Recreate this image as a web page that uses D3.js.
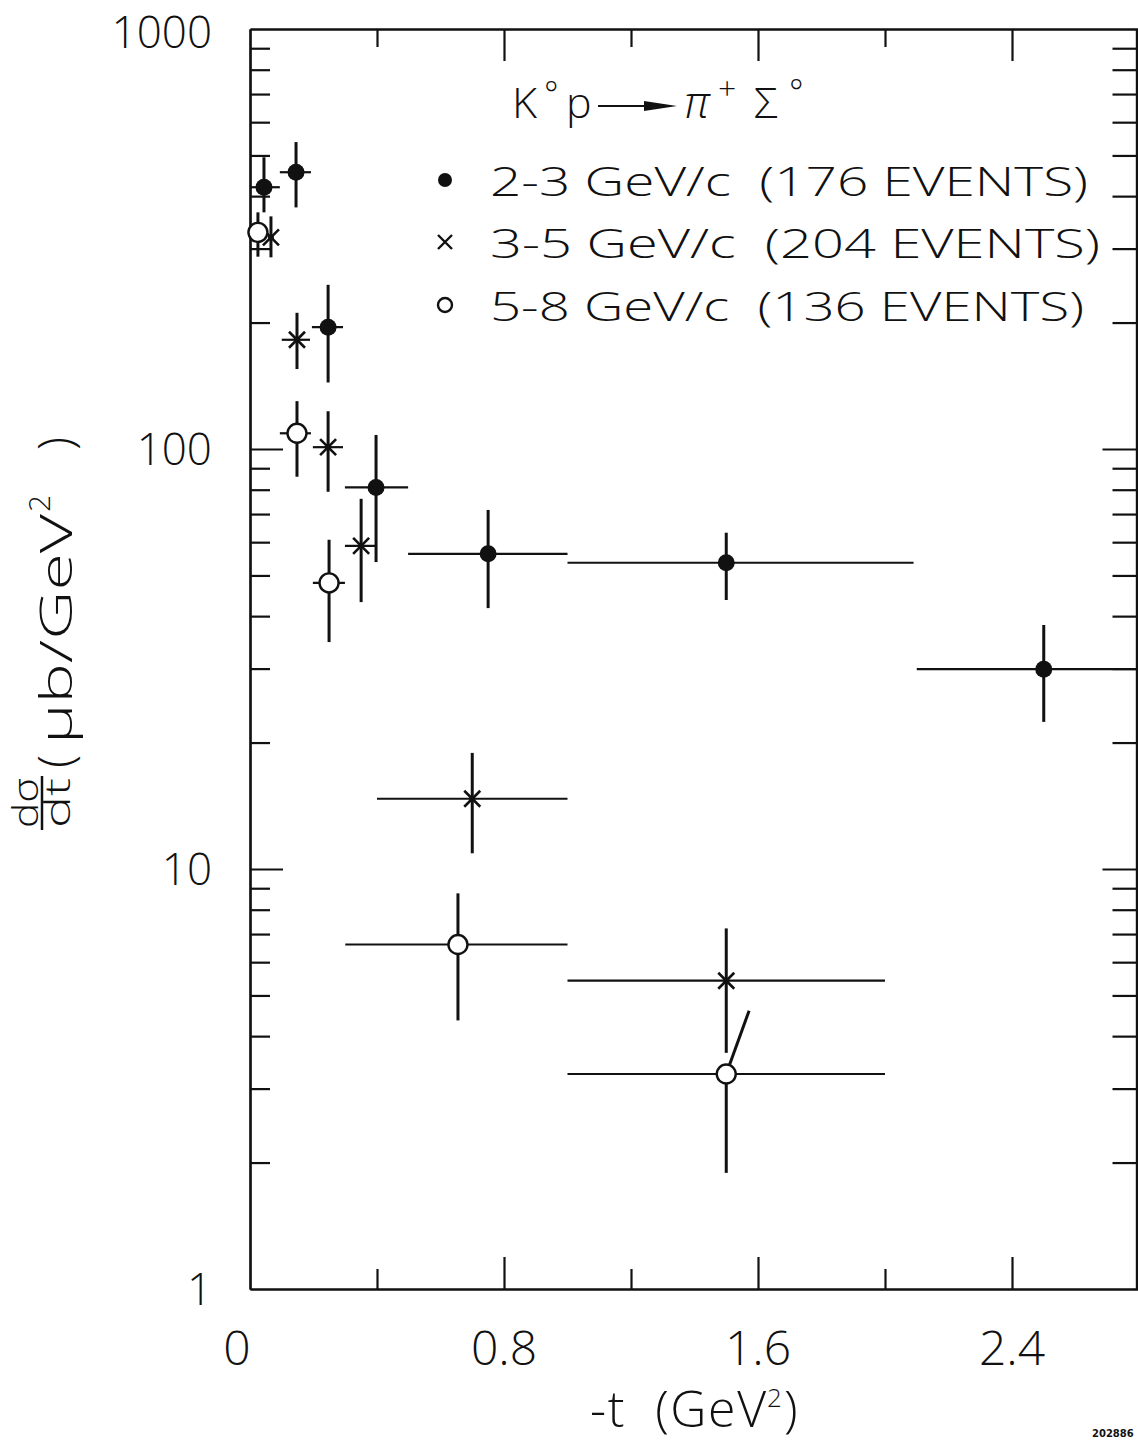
<!DOCTYPE html>
<html>
<head>
<meta charset="utf-8">
<script src="https://cdn.jsdelivr.net/npm/d3@7"></script>
<style>
    body { margin: 0; background: #fff; }
    svg text { font-family: "Open Sans", "Liberation Sans", sans-serif; font-weight: 300; fill: #111; }
</style>
</head>
<body>
<svg id="chart" width="1138" height="1444"></svg>
<script>
'use strict';

// values: bin centre, bin edges in -t, dsigma/dt and error bar ends
var seriesNames = ['2-3 GeV/c  (176 EVENTS)', '3-5 GeV/c  (204 EVENTS)', '5-8 GeV/c  (136 EVENTS)']

var t23 = [0.044, 0.145, 0.246, 0.397, 0.75, 1.5, 2.5]
var tLo23 = [0, 0.094, 0.195, 0.299, 0.498, 1.0, 2.1]
var tHi23 = [0.094, 0.192, 0.293, 0.498, 1.0, 2.09, 2.8]
var v23 = [420, 456, 195, 81, 56.3, 53.6, 29.9]
var vLo23 = [366, 376, 144, 53.8, 41.8, 43.7, 22.4]
var vHi23 = [495, 538, 246, 108, 71.6, 63.2, 38.1]

var t35 = [0.066, 0.148, 0.246, 0.35, 0.7, 1.5]
var tLo35 = [0.066, 0.10, 0.198, 0.299, 0.4, 1.0]
var tHi35 = [0.066, 0.189, 0.293, 0.397, 1.0, 2.0]
var v35 = [319, 182, 101, 58.8, 14.7, 5.42]
var vLo35 = [286, 155, 79.1, 43.2, 10.9, 3.65]
var vHi35 = [358, 211, 123, 76.1, 18.9, 7.22]

var t58 = [0.025, 0.148, 0.249, 0.655, 1.5]
var tLo58 = [0.025, 0.094, 0.198, 0.3, 1.0]
var tHi58 = [0.025, 0.192, 0.299, 1.0, 2.0]
var v58 = [328, 109, 48.0, 6.61, 3.25]
var vLo58 = [287, 85.9, 34.7, 4.36, 1.89]
var vHi58 = [366, 130, 60.8, 8.75, 3.25]

// the last open point has its upper error drawn as a slanted stroke
var slantT = [1.5, 1.572]
var slantV = [3.25, 4.6]

var xMajor = [0.8, 1.6, 2.4]
var xMinor = [0.4, 1.2, 2.0]
var xLabels = [0, 0.8, 1.6, 2.4]
var yLabels = [1, 10, 100, 1000]

var W = 1138,
    H = 1444
var svg = d3.select('#chart')

var x = d3.scaleLinear().domain([0, 2.8]).range([250, 1139])
var y = d3.scaleLog().domain([1, 1000]).range([1289, 29])

var yMajor = [10, 100]
var yMinor = y.ticks().filter(function(d) { return yLabels.indexOf(d) < 0 })

function styleAxis(g) {
    g.select('.domain').attr('stroke', '#111').attr('stroke-width', 2.2)
    g.selectAll('.tick line').attr('stroke', '#111').attr('stroke-width', 2.2)
    g.selectAll('.tick text').remove()
}

// frame with inward ticks on every side
var frameL = x(0),
    frameR = W - 1.5,
    frameT = y(1000),
    frameB = y(1)

svg.append('g').attr('transform', 'translate(' + frameL + ',0)')
    .call(d3.axisLeft(y).tickValues(yMajor).tickSizeInner(-33).tickSizeOuter(0)).call(styleAxis)
svg.append('g').attr('transform', 'translate(' + frameL + ',0)')
    .call(d3.axisLeft(y).tickValues(yMinor).tickSizeInner(-20).tickSizeOuter(0)).call(styleAxis)
svg.append('g').attr('transform', 'translate(' + frameR + ',0)')
    .call(d3.axisRight(y).tickValues(yMajor).tickSizeInner(-34).tickSizeOuter(0)).call(styleAxis)
svg.append('g').attr('transform', 'translate(' + frameR + ',0)')
    .call(d3.axisRight(y).tickValues(yMinor).tickSizeInner(-24).tickSizeOuter(0)).call(styleAxis)

svg.append('g').attr('transform', 'translate(0,' + frameB + ')')
    .call(d3.axisBottom(x).tickValues(xMajor).tickSizeInner(-32).tickSizeOuter(0)).call(styleAxis)
svg.append('g').attr('transform', 'translate(0,' + frameB + ')')
    .call(d3.axisBottom(x).tickValues(xMinor).tickSizeInner(-20).tickSizeOuter(0)).call(styleAxis)
svg.append('g').attr('transform', 'translate(0,' + frameT + ')')
    .call(d3.axisTop(x).tickValues(xMajor).tickSizeInner(-32).tickSizeOuter(0)).call(styleAxis)
svg.append('g').attr('transform', 'translate(0,' + frameT + ')')
    .call(d3.axisTop(x).tickValues(xMinor).tickSizeInner(-18).tickSizeOuter(0)).call(styleAxis)

// tick labels
svg.selectAll('text.ylab').data(yLabels).enter().append('text')
    .attr('class', 'ylab')
    .attr('x', 212)
    .attr('y', function(d) { return Math.max(y(d) + 16, 48) })
    .attr('text-anchor', 'end')
    .style('font-size', '44px')
    .text(function(d) { return d })

svg.selectAll('text.xlab').data(xLabels).enter().append('text')
    .attr('class', 'xlab')
    .attr('x', function(d) { return x(d) - (d === 0 ? 13 : 0) })
    .attr('y', 1365)
    .attr('text-anchor', 'middle')
    .style('font-size', '48px')
    .text(function(d) { return d === 0 ? '0' : d3.format('.1f')(d) })

// axis titles
svg.append('text')
    .attr('x', 590)
    .attr('y', 1427)
    .attr('textLength', 176)
    .attr('lengthAdjust', 'spacing')
    .style('font-size', '50px')
    .style('white-space', 'pre')
    .text('-t  (GeV')
svg.append('text')
    .attr('x', 767)
    .attr('y', 1407)
    .style('font-size', '26px')
    .text('2')
svg.append('text')
    .attr('x', 784)
    .attr('y', 1427)
    .style('font-size', '50px')
    .text(')')

var yt = svg.append('g').attr('transform', 'rotate(-90)')
yt.append('text')
    .attr('x', -803)
    .attr('y', 38)
    .attr('text-anchor', 'middle')
    .attr('textLength', 50)
    .attr('lengthAdjust', 'spacingAndGlyphs')
    .style('font-size', '34px')
    .text('dσ')
yt.append('line')
    .attr('x1', -830).attr('x2', -776)
    .attr('y1', 42).attr('y2', 42)
    .attr('stroke', '#111').attr('stroke-width', 2.5)
yt.append('text')
    .attr('x', -803)
    .attr('y', 70)
    .attr('text-anchor', 'middle')
    .attr('textLength', 50)
    .attr('lengthAdjust', 'spacingAndGlyphs')
    .style('font-size', '34px')
    .text('dt')
yt.append('text')
    .attr('x', -768)
    .attr('y', 72)
    .style('font-size', '48px')
    .text('(')
yt.append('text')
    .attr('x', -744)
    .attr('y', 72)
    .attr('textLength', 230)
    .attr('lengthAdjust', 'spacingAndGlyphs')
    .style('font-size', '44px')
    .text('μb/GeV')
yt.append('text')
    .attr('x', -512)
    .attr('y', 50)
    .style('font-size', '30px')
    .text('2')
yt.append('text')
    .attr('x', -450)
    .attr('y', 72)
    .style('font-size', '48px')
    .text(')')

// error bars and markers
function drawSeries(t, tLo, tHi, v, vLo, vHi, kind) {
    var rows = t.map(function(d, i) {
        return { t: d, tLo: tLo[i], tHi: tHi[i], v: v[i], vLo: vLo[i], vHi: vHi[i] }
    })
    var g = svg.append('g')
    g.selectAll('line.h').data(rows.filter(function(d) { return d.tHi > d.tLo })).enter().append('line')
        .attr('x1', function(d) { return x(d.tLo) })
        .attr('x2', function(d) { return x(d.tHi) })
        .attr('y1', function(d) { return y(d.v) })
        .attr('y2', function(d) { return y(d.v) })
        .attr('stroke', '#111').attr('stroke-width', 2.2)
    g.selectAll('line.v').data(rows).enter().append('line')
        .attr('x1', function(d) { return x(d.t) })
        .attr('x2', function(d) { return x(d.t) })
        .attr('y1', function(d) { return y(d.vLo) })
        .attr('y2', function(d) { return y(d.vHi) })
        .attr('stroke', '#111').attr('stroke-width', 3)
    var m = g.selectAll('g.m').data(rows).enter().append('g')
        .attr('transform', function(d) { return 'translate(' + x(d.t) + ',' + y(d.v) + ')' })
    drawMarker(m, kind)
}

function drawMarker(sel, kind) {
    if (kind === 'filled') {
        sel.append('circle').attr('r', 8.5).attr('fill', '#111')
    } else if (kind === 'open') {
        sel.append('circle').attr('r', 9.5).attr('fill', '#fff').attr('stroke', '#111').attr('stroke-width', 2.4)
    } else {
        sel.append('path').attr('d', 'M-8,-8L8,8M-8,8L8,-8').attr('stroke', '#111').attr('stroke-width', 2.6)
        sel.append('circle').attr('r', 3).attr('fill', '#111')
    }
}

drawSeries(t23, tLo23, tHi23, v23, vLo23, vHi23, 'filled')
drawSeries(t35, tLo35, tHi35, v35, vLo35, vHi35, 'cross')
drawSeries(t58, tLo58, tHi58, v58, vLo58, vHi58, 'open')

// slanted upper error of the last open point, starting at the circle edge
var sx0 = x(slantT[0]), sy0 = y(slantV[0]), sx1 = x(slantT[1]), sy1 = y(slantV[1])
var sl = Math.sqrt((sx1 - sx0) * (sx1 - sx0) + (sy1 - sy0) * (sy1 - sy0))
svg.append('line')
    .attr('x1', sx0 + (sx1 - sx0) / sl * 10)
    .attr('y1', sy0 + (sy1 - sy0) / sl * 10)
    .attr('x2', sx1)
    .attr('y2', sy1)
    .attr('stroke', '#111').attr('stroke-width', 3)

// reaction label, placed piece by piece like the hand lettering
function label(tx, ty, size, str, italic) {
    var el = svg.append('text')
        .attr('x', tx)
        .attr('y', ty)
        .style('font-size', size + 'px')
        .text(str)
    if (italic) el.style('font-style', 'italic')
    return el
}
label(512, 118, 43, 'K')
label(544, 106, 34, '°')
label(566, 118, 43, 'p')
svg.append('line')
    .attr('x1', 598).attr('x2', 660)
    .attr('y1', 106).attr('y2', 106)
    .attr('stroke', '#111').attr('stroke-width', 2.2)
svg.append('path')
    .attr('d', 'M644,101L677,106L644,111Z')
    .attr('fill', '#111')
label(684, 118, 44, 'π', true)
label(718, 100, 32, '+')
label(754, 118, 43, 'Σ')
label(789, 104, 34, '°')

// legend
var legendY = [180, 242, 305]
var legendKind = ['filled', 'cross', 'open']
var legendLen = [598, 610, 594]
seriesNames.forEach(function(name, i) {
    var lg = svg.append('g').attr('transform', 'translate(445,' + legendY[i] + ')')
    if (legendKind[i] === 'filled') {
        lg.append('circle').attr('r', 7).attr('fill', '#111')
    } else if (legendKind[i] === 'open') {
        lg.append('circle').attr('r', 7).attr('fill', '#fff').attr('stroke', '#111').attr('stroke-width', 2.4)
    } else {
        lg.append('path').attr('d', 'M-7,-7L7,7M-7,7L7,-7').attr('stroke', '#111').attr('stroke-width', 2.4)
    }
    svg.append('text')
        .attr('x', 490)
        .attr('y', legendY[i] + 16)
        .attr('textLength', legendLen[i])
        .attr('lengthAdjust', 'spacingAndGlyphs')
        .style('font-size', '41px')
        .style('white-space', 'pre')
        .text(name)
})

// figure number at the corner
svg.append('text')
    .attr('x', 1092)
    .attr('y', 1437)
    .style('font-family', '"DejaVu Sans", sans-serif')
    .style('font-weight', 'bold')
    .style('font-size', '10px')
    .text('202886')
</script>
</body>
</html>
